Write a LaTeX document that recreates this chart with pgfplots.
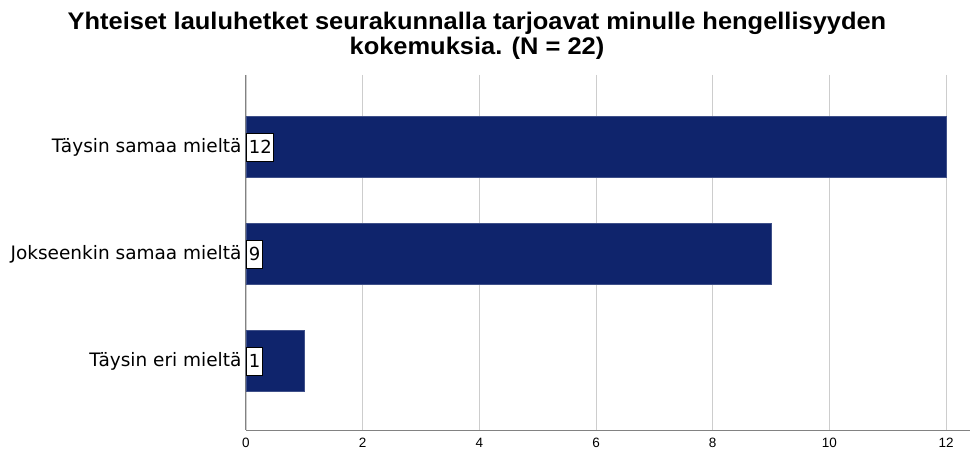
\documentclass[border=0pt]{standalone}
\usepackage{pgfplots}
\pgfplotsset{compat=1.18}
\usepackage{fontspec}
\setmainfont{DejaVu Sans}
\newfontfamily\titlefont[FakeStretch=1.06]{Liberation Sans}
\newfontfamily\tickfont{Liberation Sans}
\definecolor{barblue}{RGB}{15,36,108}
\definecolor{axgray}{RGB}{130,130,130}
\definecolor{gridgray}{RGB}{205,205,205}
\begin{document}
\begin{tikzpicture}[x=1pt,y=1pt]
\begin{axis}[
  at={(0,0)}, anchor=south west,
  scale only axis, width=724pt, height=355pt,
  xmin=0, xmax=12.41,
  ymin=-0.673, ymax=2.645, y dir=reverse,
  ytick={0,1,2},
  yticklabels={Täysin samaa mieltä, Jokseenkin samaa mieltä, Täysin eri mieltä},
  xtick={0,2,4,6,8,10,12},
  xticklabels={0,2,4,6,8,10,12},
  axis x line*=bottom, axis y line*=left,
  axis line style={axgray, line width=1pt},
  xmajorgrids, grid style={gridgray, line width=0.8pt},
  major tick length=0pt,
  x tick label style={font=\tickfont\fontsize{13.5}{15}\selectfont, yshift=-5pt},
  y tick label style={font=\fontsize{18.5}{21}\selectfont, xshift=-1pt},
  /pgf/number format/assume math mode=true,
  clip=false,
]
\addplot[xbar, bar width=61pt, fill=barblue, draw=barblue!80!white] coordinates {(12,0) (9,1) (1,2)};
\addplot[only marks, mark=none, point meta=explicit symbolic,
  nodes near coords={\fontsize{18}{21}\selectfont\pgfplotspointmeta},
  every node near coord/.style={anchor=west, draw=black, fill=white, inner xsep=2pt, inner ysep=0pt, minimum height=28pt, line width=0.8pt, xshift=0.5pt}]
  table[meta=label] {
x y label
0 0 12
0 1 9
0 2 1
};
\end{axis}
\node[font=\titlefont\bfseries\fontsize{24}{25.5}\selectfont, align=center] at (231,394) {Yhteiset lauluhetket seurakunnalla tarjoavat minulle hengellisyyden\\kokemuksia. (N = 22)};
\path[use as bounding box] (-246,-20) rectangle (725,430);
\end{tikzpicture}
\end{document}
